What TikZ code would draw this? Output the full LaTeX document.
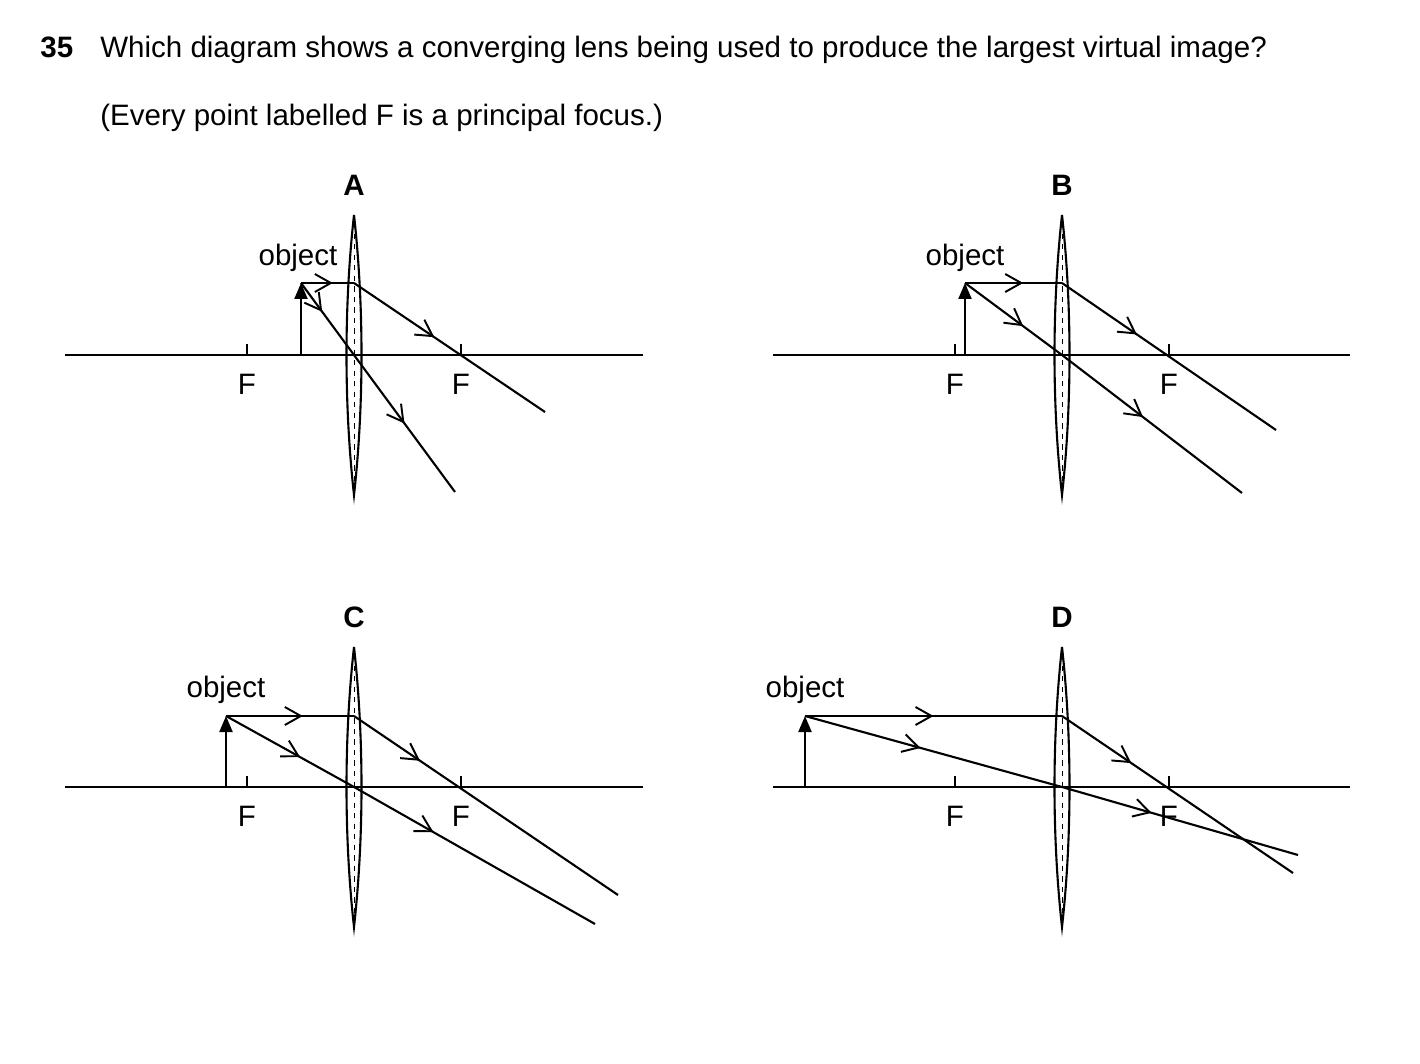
\documentclass[tikz,border=0pt]{standalone}
\usepackage{fontspec}
\setmainfont{Liberation Sans}
\usetikzlibrary{arrows.meta, decorations.markings}
\tikzset{
  ray/.style={line width=1.2pt},
  mid/.style={postaction=decorate, decoration={markings,
    mark=at position #1 with {\arrow{Straight Barb[length=3.2mm,width=3.6mm,line width=1.1pt]}}}},
  lbl/.style={font=\fontsize{16.8}{19}\selectfont, inner sep=0pt},
  obj/.style={line width=1.2pt, -{Triangle[length=3.2mm,width=2.6mm]}}
}
% lens at x, axis at y, axis ends
\newcommand\lensset[4]{%
  \draw[line width=1.2pt] (#1,#2-140) .. controls (#1+10,#2-50) and (#1+10,#2+50) .. (#1,#2+140)
    .. controls (#1-10,#2+50) and (#1-10,#2-50) .. (#1,#2-140);
  \draw[dashed, line width=0.3pt] (#1,#2-132) -- (#1,#2+132);
  \draw[line width=1.2pt] (#3,#2) -- (#4,#2);
  \foreach \fx in {-107,107}{
    \draw[line width=0.6pt] (#1+\fx,#2) -- (#1+\fx,#2-11);
    \node[lbl] at (#1+\fx,#2+29) {F};}
}
\begin{document}
\begin{tikzpicture}[x=0.02cm,y=-0.02cm]
\useasboundingbox (0,0) rectangle (1420,1064);
\node[lbl, anchor=base west] (qn) at (40,58) {\bfseries 35};
\node[lbl, anchor=base west] (qt) at (100,58) {Which diagram shows a converging lens being used to produce the largest virtual image?};
\node[lbl, anchor=base west] (qs) at (100,126) {(Every point labelled F is a principal focus.)};
% A
\node[lbl] (la) at (354,185) {\bfseries A};
\lensset{354}{355}{65}{643}
\coordinate (oa) at (301,283); \coordinate (ha) at (354,283);
\coordinate (ca) at (354,355);
\draw[obj] (301,355) -- (oa);
\node[lbl] (ta) at (298,258) {object};
\draw[ray, mid=0.6] (oa) -- (ha);
\draw[ray, mid=0.42] (ha) -- (545,412);
\draw[ray, mid=0.4] (oa) -- (ca);
\draw[ray, mid=0.5] (ca) -- (455,492);
% B
\node[lbl] (lb) at (1062,185) {\bfseries B};
\lensset{1062}{355}{773}{1350}
\coordinate (ob) at (965,283); \coordinate (hb) at (1062,283);
\coordinate (cb) at (1062,355);
\draw[obj] (965,355) -- (ob);
\node[lbl] (tb) at (965,258) {object};
\draw[ray, mid=0.6] (ob) -- (hb);
\draw[ray, mid=0.35] (hb) -- (1276,430);
\draw[ray, mid=0.6] (ob) -- (cb);
\draw[ray, mid=0.45] (cb) -- (1242,493);
% C
\node[lbl] (lc) at (354,617) {\bfseries C};
\lensset{354}{787}{65}{643}
\coordinate (oc) at (226,716); \coordinate (hc) at (354,716);
\coordinate (cc) at (354,787);
\draw[obj] (226,787) -- (oc);
\node[lbl] (tc) at (226,690) {object};
\draw[ray, mid=0.6] (oc) -- (hc);
\draw[ray, mid=0.25] (hc) -- (618,895);
\draw[ray, mid=0.58] (oc) -- (cc);
\draw[ray, mid=0.33] (cc) -- (595,924);
% D
\node[lbl] (ld) at (1062,617) {\bfseries D};
\lensset{1062}{787}{773}{1350}
\coordinate (od) at (805,716); \coordinate (hd) at (1062,716);
\coordinate (cd) at (1062,787);
\draw[obj] (805,787) -- (od);
\node[lbl] (td) at (805,690) {object};
\draw[ray, mid=0.5] (od) -- (hd);
\draw[ray, mid=0.3] (hd) -- (1293,873);
\draw[ray, mid=0.45] (od) -- (cd);
\draw[ray, mid=0.38] (cd) -- (1298,855);
\end{tikzpicture}
\end{document}
